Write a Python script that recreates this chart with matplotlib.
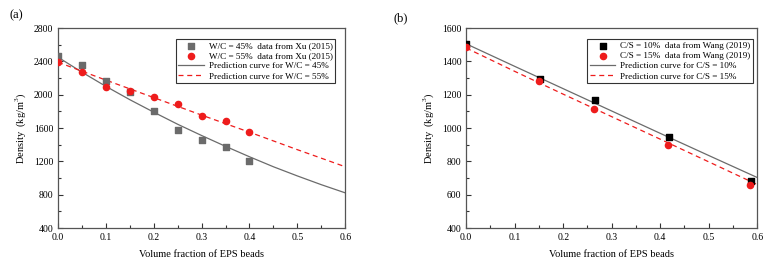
import matplotlib
matplotlib.use("Agg")
import matplotlib.pyplot as plt
from matplotlib.ticker import MultipleLocator

plt.rcParams.update({
    "font.family": "serif",
    "font.serif": ["Liberation Serif"],
    "mathtext.fontset": "custom",
    "mathtext.rm": "Liberation Serif",
    "font.size": 7,
})

# --- (a) Xu (2015) ---
xu_x = [0.0, 0.05, 0.10, 0.15, 0.20, 0.25, 0.30, 0.35, 0.40]
xu_wc45 = [2459, 2359, 2166, 2038, 1809, 1576, 1456, 1375, 1207]
xu_wc55 = [2387, 2278, 2098, 2050, 1977, 1885, 1749, 1684, 1548]

pred_x = [0.0, 0.05, 0.10, 0.15, 0.20, 0.25, 0.30, 0.35, 0.40, 0.45, 0.50, 0.55, 0.60]
pred_wc45 = [2450, 2270, 2100, 1940, 1790, 1645, 1510, 1380, 1255, 1135, 1025, 920, 822]
pred_wc55 = [2390, 2282, 2175, 2070, 1965, 1860, 1755, 1652, 1550, 1445, 1340, 1238, 1135]

# --- (b) Wang (2019) ---
wang_x10 = [0.0, 0.153, 0.266, 0.418, 0.588]
wang_cs10 = [1506, 1297, 1168, 944, 681]
wang_x15 = [0.0, 0.151, 0.263, 0.416, 0.586]
wang_cs15 = [1486, 1283, 1114, 896, 659]

predb_x = [0.0, 0.1, 0.2, 0.3, 0.4, 0.5, 0.6]
predb_cs10 = [1505, 1370, 1236, 1102, 968, 835, 703]
predb_cs15 = [1480, 1340, 1203, 1068, 933, 797, 661]

GRAY = "#6b6b6b"
RED = "#ee1c1c"

fig = plt.figure(figsize=(7.68, 2.61), dpi=100)
ax1 = fig.add_axes([0.0755, 0.1264, 0.374, 0.7663])
ax2 = fig.add_axes([0.607, 0.1264, 0.379, 0.7663])


def style_axis(ax, ylim, ymajor):
    ax.set_xlim(0, 0.6)
    ax.set_ylim(*ylim)
    ax.xaxis.set_major_locator(MultipleLocator(0.1))
    ax.xaxis.set_minor_locator(MultipleLocator(0.05))
    ax.yaxis.set_major_locator(MultipleLocator(ymajor))
    ax.yaxis.set_minor_locator(MultipleLocator(ymajor / 2))
    ax.tick_params(which="both", direction="in", top=False, right=False,
                   labelsize=7, width=0.8, color="#333333")
    ax.tick_params(which="major", length=3.5)
    ax.tick_params(which="minor", length=2)
    for s in ax.spines.values():
        s.set_color("#555555")
        s.set_linewidth(0.9)
    ax.set_xlabel("Volume fraction of EPS beads", fontsize=7.5, labelpad=6)
    ax.set_ylabel("Density  (kg/m$^3$)", fontsize=7.5, labelpad=4)
    ax.xaxis.set_major_formatter(plt.FuncFormatter(lambda v, p: f"{v:.1f}"))


def add_legend(ax, anchor):
    leg = ax.legend(loc="upper right", bbox_to_anchor=anchor, fontsize=6.6,
                    frameon=True, fancybox=False, edgecolor="black",
                    handlelength=2.8, handletextpad=0.5, labelspacing=0.2,
                    borderpad=0.3, borderaxespad=0.3)
    leg.get_frame().set_linewidth(0.8)


# panel (a)
ax1.plot(pred_x, pred_wc45, color=GRAY, lw=0.9, zorder=2)
ax1.plot(pred_x, pred_wc55, color=RED, lw=0.9, ls=(0, (4, 3)), zorder=2)
ax1.scatter(xu_x, xu_wc45, marker="s", s=14, color=GRAY, zorder=3,
            label="W/C = 45%  data from Xu (2015)")
ax1.scatter(xu_x, xu_wc55, marker="o", s=20, color=RED, zorder=3,
            label="W/C = 55%  data from Xu (2015)")
ax1.plot([], [], color=GRAY, lw=0.9, label="Prediction curve for W/C = 45%")
ax1.plot([], [], color=RED, lw=0.9, ls=(0, (4, 3)), label="Prediction curve for W/C = 55%")
add_legend(ax1, (0.975, 0.96))
style_axis(ax1, (400, 2800), 400)

# panel (b)
ax2.plot(predb_x, predb_cs10, color=GRAY, lw=0.9, zorder=2)
ax2.plot(predb_x, predb_cs15, color=RED, lw=0.9, ls=(0, (4, 3)), zorder=2)
ax2.scatter(wang_x10, wang_cs10, marker="s", s=14, color="black", zorder=3,
            label="C/S = 10%  data from Wang (2019)")
ax2.scatter(wang_x15, wang_cs15, marker="o", s=20, color=RED, zorder=3,
            label="C/S = 15%  data from Wang (2019)")
ax2.plot([], [], color=GRAY, lw=0.9, label="Prediction curve for C/S = 10%")
ax2.plot([], [], color=RED, lw=0.9, ls=(0, (4, 3)), label="Prediction curve for C/S = 15%")
add_legend(ax2, (0.995, 0.96))
style_axis(ax2, (400, 1600), 200)

fig.text(0.012, 0.93, "(a)", fontsize=9)
fig.text(0.512, 0.92, "(b)", fontsize=9)

fig.savefig("out.png", dpi=100)
